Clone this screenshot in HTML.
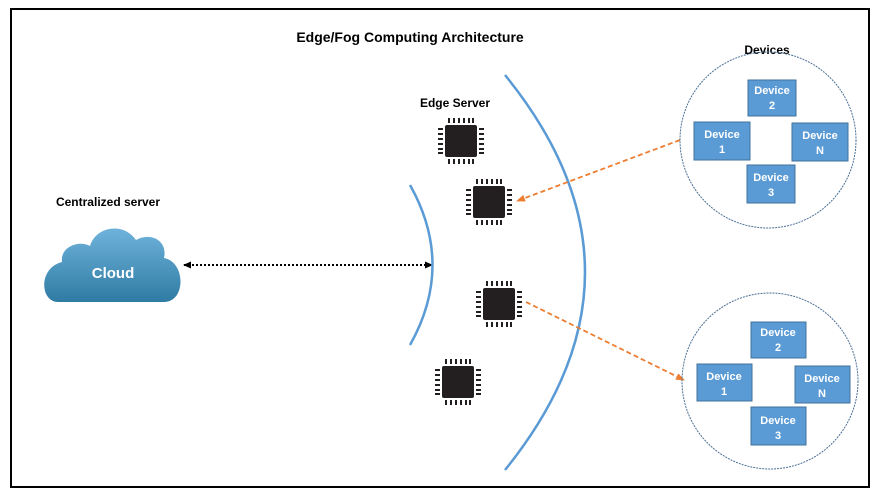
<!DOCTYPE html>
<html><head><style>body{margin:0;background:#fff}svg{display:block}</style></head><body>
<svg width="876" height="495" viewBox="0 0 876 495" xmlns="http://www.w3.org/2000/svg" font-family="Liberation Sans, sans-serif">
<defs>
<linearGradient id="cg" x1="0" y1="0" x2="0" y2="1"><stop offset="0" stop-color="#6fb3dc"/><stop offset="1" stop-color="#2f7ba3"/></linearGradient>
<marker id="ab" markerUnits="userSpaceOnUse" markerWidth="8" markerHeight="8" refX="7" refY="4" orient="auto-start-reverse"><path d="M0,0.5 L8,4 L0,7.5 Z" fill="#000"/></marker>
<marker id="ao" markerUnits="userSpaceOnUse" markerWidth="9" markerHeight="8" refX="8" refY="4" orient="auto"><path d="M0,0.5 L9,4 L0,7.5 Z" fill="#ed7d31"/></marker>
<g id="chip"><rect x="9" y="9" width="32" height="32" rx="2" fill="#231f20"/>
<g fill="#231f20"><rect x="12" y="2" width="2" height="5"/><rect x="17" y="2" width="2" height="5"/><rect x="22" y="2" width="2" height="5"/><rect x="27" y="2" width="2" height="5"/><rect x="32" y="2" width="2" height="5"/><rect x="36" y="2" width="2" height="5"/>
<rect x="12" y="43" width="2" height="5"/><rect x="17" y="43" width="2" height="5"/><rect x="22" y="43" width="2" height="5"/><rect x="27" y="43" width="2" height="5"/><rect x="32" y="43" width="2" height="5"/><rect x="36" y="43" width="2" height="5"/>
<rect x="2" y="12" width="5" height="2"/><rect x="2" y="17" width="5" height="2"/><rect x="2" y="22" width="5" height="2"/><rect x="2" y="27" width="5" height="2"/><rect x="2" y="32" width="5" height="2"/><rect x="2" y="36" width="5" height="2"/>
<rect x="43" y="12" width="5" height="2"/><rect x="43" y="17" width="5" height="2"/><rect x="43" y="22" width="5" height="2"/><rect x="43" y="27" width="5" height="2"/><rect x="43" y="32" width="5" height="2"/><rect x="43" y="36" width="5" height="2"/></g></g>
</defs>
<rect x="11" y="9" width="858" height="478" fill="none" stroke="#000" stroke-width="2"/>
<text x="410" y="42" font-size="14" font-weight="bold" text-anchor="middle">Edge/Fog  Computing Architecture</text>
<text x="455" y="107" font-size="12" font-weight="bold" text-anchor="middle">Edge Server</text>
<text x="108" y="206" font-size="12" font-weight="bold" text-anchor="middle">Centralized server</text>
<text x="767" y="54" font-size="12" font-weight="bold" text-anchor="middle">Devices</text>
<path d="M58,302 C40,302 38,268 62,262 C60,246 80,240 90,246 C96,226 124,222 136,240 C150,232 168,240 164,258 C186,262 186,302 164,302 Z" fill="url(#cg)"/>
<text x="113" y="278" font-size="15" font-weight="bold" fill="#fff" text-anchor="middle">Cloud</text>
<line x1="184" y1="265" x2="432" y2="265" stroke="#000" stroke-width="2" stroke-dasharray="2,2" marker-start="url(#ab)" marker-end="url(#ab)"/>
<path d="M410,185 Q455,265 410,345" fill="none" stroke="#5b9bd5" stroke-width="2.5"/>
<path d="M505,75 Q665,272 505,470" fill="none" stroke="#5b9bd5" stroke-width="2.5"/>
<use href="#chip" x="436" y="116"/>
<use href="#chip" x="464" y="177"/>
<use href="#chip" x="474" y="279"/>
<use href="#chip" x="433" y="357"/>
<line x1="680" y1="140" x2="517" y2="201" stroke="#ed7d31" stroke-width="1.8" stroke-dasharray="5,3" marker-end="url(#ao)"/>
<line x1="526" y1="302" x2="684" y2="380" stroke="#ed7d31" stroke-width="1.8" stroke-dasharray="5,3" marker-end="url(#ao)"/>
<circle cx="768" cy="140" r="88" fill="none" stroke="#4a6f95" stroke-width="1" stroke-dasharray="2,1"/>
<circle cx="770" cy="381" r="88" fill="none" stroke="#4a6f95" stroke-width="1" stroke-dasharray="2,1"/>
<g fill="#5b9bd5" stroke="#41719c" stroke-width="1">
<rect x="748" y="80" width="48" height="36"/><rect x="694" y="122" width="56" height="38"/><rect x="792" y="123" width="56" height="38"/><rect x="747" y="165" width="48" height="38"/>
<rect x="751" y="322" width="55" height="36"/><rect x="697" y="364" width="55" height="37"/><rect x="795" y="366" width="55" height="37"/><rect x="751" y="407" width="55" height="38"/>
</g>
<g fill="#fff" font-size="11" font-weight="bold" text-anchor="middle">
<text x="772" y="94">Device</text><text x="772" y="109">2</text>
<text x="722" y="138">Device</text><text x="722" y="153">1</text>
<text x="820" y="139">Device</text><text x="820" y="154">N</text>
<text x="771" y="181">Device</text><text x="771" y="196">3</text>
<text x="778" y="336">Device</text><text x="778" y="351">2</text>
<text x="724" y="380">Device</text><text x="724" y="395">1</text>
<text x="822" y="382">Device</text><text x="822" y="397">N</text>
<text x="778" y="424">Device</text><text x="778" y="439">3</text>
</g>
</svg>
</body></html>
